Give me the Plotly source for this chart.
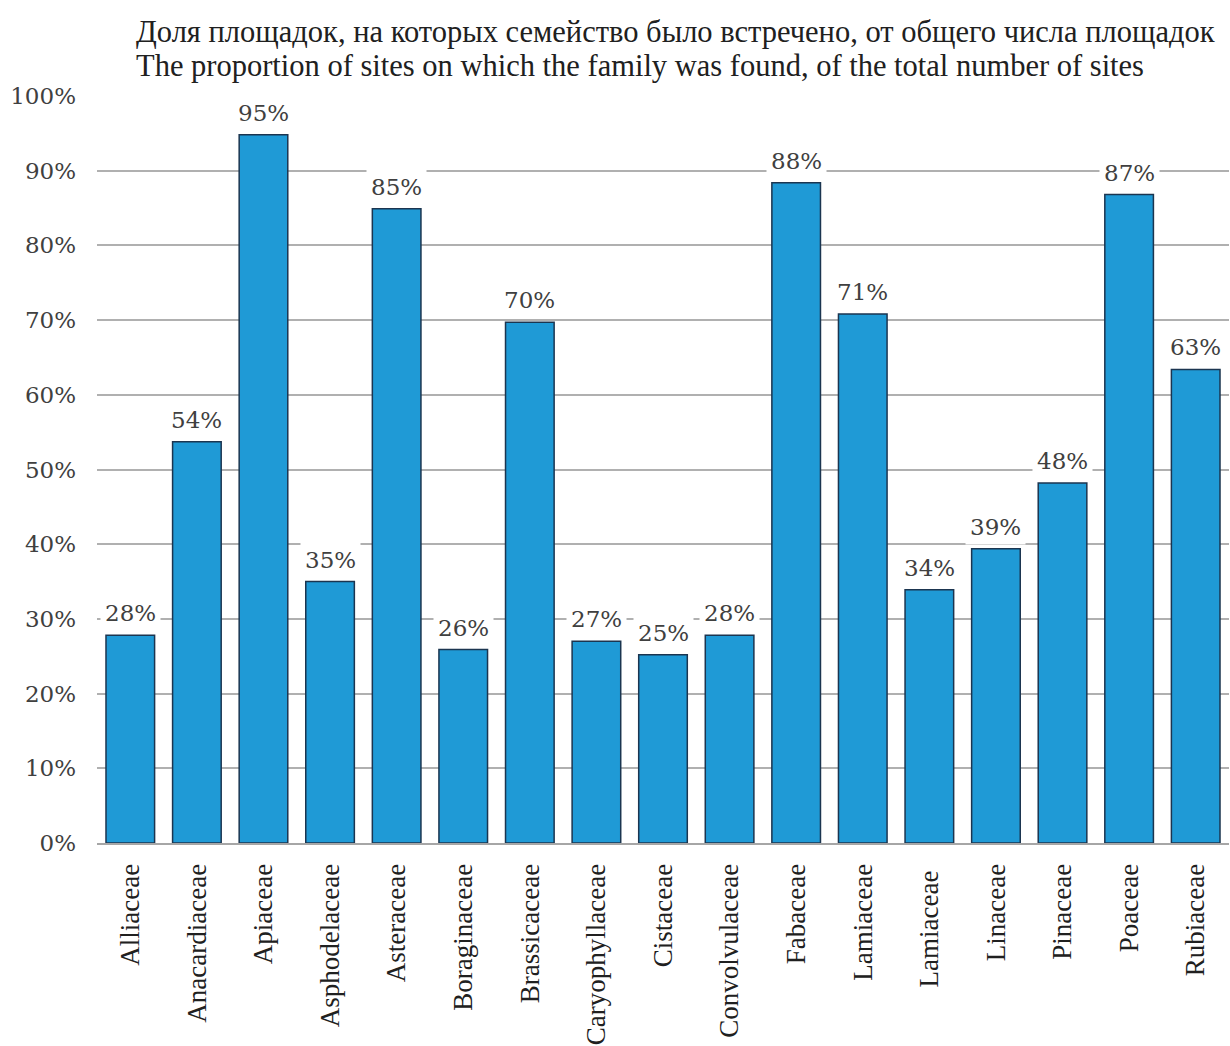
import plotly.graph_objects as go

families = ["Alliaceae", "Anacardiaceae", "Apiaceae", "Asphodelaceae", "Asteraceae",
            "Boraginaceae", "Brassicaceae", "Caryophyllaceae", "Cistaceae", "Convolvulaceae",
            "Fabaceae", "Lamiaceae", "Lamiaceae ", "Linaceae", "Pinaceae", "Poaceae", "Rubiaceae"]
share = [0.278, 0.537, 0.948, 0.35, 0.849, 0.259, 0.697, 0.27, 0.252, 0.278,
         0.884, 0.708, 0.339, 0.394, 0.482, 0.868, 0.634]
title_ru = "Доля площадок, на которых семейство было встречено, от общего числа площадок"
title_en = "The proportion of sites on which the family was found, of the total number of sites"

W, H = 1230, 1046
ML, MR, MT, MB = 97, 1, 96, 201
PW, PH = W - ML - MR, H - MT - MB

fig = go.Figure()
fig.add_trace(go.Bar(
    x=families, y=share,
    marker=dict(color="#1f9ad6", line=dict(color="#1b3550", width=1.5)),
    hoverinfo="skip",
))

for f, v in zip(families, share):
    fig.add_annotation(x=f, y=v, text=f"{round(v*100)}%", showarrow=False,
                       yanchor="bottom", yshift=4, bgcolor="white",
                       font=dict(family="DejaVu Serif", size=23, color="#404040"),
                       borderpad=4)

for txt, cy in [(title_ru, 32), (title_en, 66)]:
    fig.add_annotation(text=txt, xref="paper", yref="paper",
                       x=(134 - ML) / PW, y=1 + (MT - cy) / PH,
                       xanchor="left", yanchor="middle", showarrow=False,
                       font=dict(family="Liberation Serif", size=30.5, color="#202020"))

fig.update_layout(
    width=W, height=H,
    margin=dict(l=ML, r=MR, t=MT, b=MB),
    paper_bgcolor="white", plot_bgcolor="white",
    bargap=0.27,
    showlegend=False,
    xaxis=dict(tickangle=-90, showgrid=False, showline=True, linecolor="#a6a6a6", linewidth=2,
               tickfont=dict(family="Liberation Serif", size=27, color="#202020"),
               ticks="", ticklabelstandoff=8),
    yaxis=dict(range=[0, 1], dtick=0.1, tickformat=".0%", showgrid=True, gridcolor="#b0b0b0",
               gridwidth=2, zeroline=False, showline=False, ticks="",
               ticklabelstandoff=20,
               tickfont=dict(family="DejaVu Serif", size=23, color="#404040")),
)

fig.write_html("out.html")
